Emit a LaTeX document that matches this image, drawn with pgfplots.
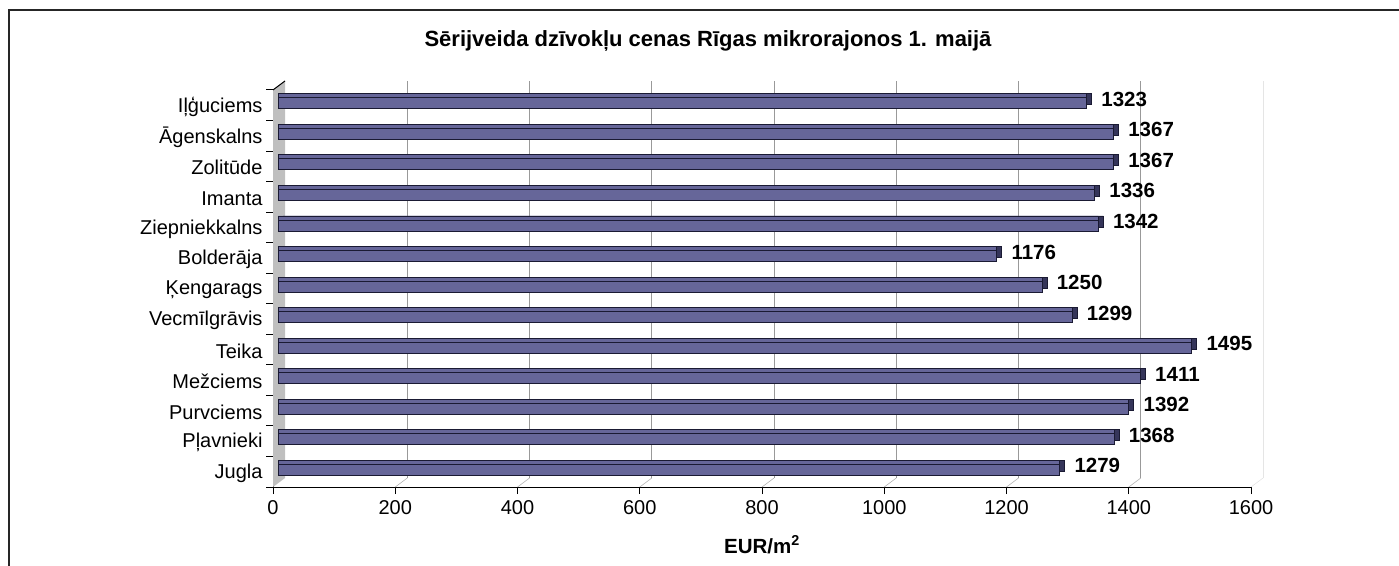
\documentclass[border=0pt]{standalone}
\usepackage{pgfplots}
\pgfplotsset{compat=1.18}
\usepackage{pgfplotstable}
\usepackage{fontspec}
\setmainfont{Liberation Sans}
\definecolor{barface}{HTML}{666699}
\definecolor{barend}{HTML}{35355A}
\definecolor{barline}{HTML}{1A1A33}

\pgfplotstableread{
y v
0 1279
1 1368
2 1392
3 1411
4 1495
5 1299
6 1250
7 1176
8 1342
9 1336
10 1367
11 1367
12 1323
}\datatable

\begin{document}
\begin{tikzpicture}[x=1pt,y=1pt]
\useasboundingbox (0,0) rectangle (1399,565);
\draw[line width=1.6pt, black!85] (9,-5) -- (9,555) -- (1405,555);
\node[font=\bfseries\fontsize{22}{26}\selectfont, anchor=base] at (708,518.5) {Sērijveida dzīvokļu cenas Rīgas mikrorajonos 1. maijā};
\begin{axis}[
  at={(273pt,78pt)}, anchor=south west,
  scale only axis, width=978pt, height=397pt,
  xmin=0, xmax=1600, ymin=-0.5, ymax=12.5,
  axis x line*=bottom, axis y line*=left,
  axis line style={black, line width=1pt, -},
  xtick={0,200,...,1600},
  ytick={0,...,12},
  yticklabels={Jugla,Pļavnieki,Purvciems,Mežciems,Teika,Vecmīlgrāvis,Ķengarags,Bolderāja,Ziepniekkalns,Imanta,Zolitūde,Āgenskalns,Iļģuciems},
  minor ytick={-0.5,0.5,...,12.5},
  major y tick style={draw=none},
  minor y tick style={draw=black, line width=1pt},
  major x tick style={black, line width=1pt},
  tick align=outside, major tick length=7pt, minor tick length=7pt,
  tick label style={font=\fontsize{20}{24}\selectfont},
  xticklabel style={yshift=-3pt},
  yticklabel style={yshift=-1.5pt},
  /pgf/number format/assume math mode=true,
  /pgf/number format/1000 sep={},
  xlabel={\textbf{EUR/m\textsuperscript{2}}},
  xlabel style={font=\fontsize{20.5}{24}\selectfont, yshift=-14pt},
  clip=false,
]
\fill[black!25] (axis cs:0,-0.5) -- (axis cs:0,12.5) -- ++(12pt,9pt) -- ([shift={(12pt,9pt)}]axis cs:0,-0.5) -- cycle;
\draw[black, line width=1pt] (axis cs:0,12.5) -- ++(12pt,9pt);
\pgfplotsinvokeforeach{200,400,600,800,1000,1200,1400}{
  \draw[black!30, line width=0.6pt] (axis cs:#1,-0.5) -- ++(12pt,9pt);
  \draw[black!40, line width=1pt] ([shift={(12pt,9pt)}]axis cs:#1,-0.5) -- ([shift={(12pt,9pt)}]axis cs:#1,12.5);
}
\draw[black!10, line width=0.6pt] (axis cs:1600,-0.5) -- ++(12pt,9pt);
\draw[black!10, line width=1pt] ([shift={(12pt,9pt)}]axis cs:1600,-0.5) -- ([shift={(12pt,9pt)}]axis cs:1600,12.5);

\addplot[xbar, bar width=11pt, bar shift=6pt, xshift=10pt, fill=barend, draw=barline, line width=0.8pt] table[x=v,y=y]{\datatable};
\addplot[xbar, bar width=11pt, bar shift=6pt, xshift=5pt, fill=barface, draw=barline, line width=0.8pt,
  point meta=x, nodes near coords, nodes near coords align=horizontal,
  every node near coord/.append style={font=\bfseries\fontsize{20.5}{24}\selectfont, anchor=west, xshift=11pt, yshift=6pt, text=black}] table[x=v,y=y]{\datatable};
\addplot[xbar, bar width=11pt, bar shift=2pt, xshift=5pt, fill=barface, draw=barline, line width=0.8pt] table[x=v,y=y]{\datatable};
\end{axis}
\end{tikzpicture}
\end{document}
